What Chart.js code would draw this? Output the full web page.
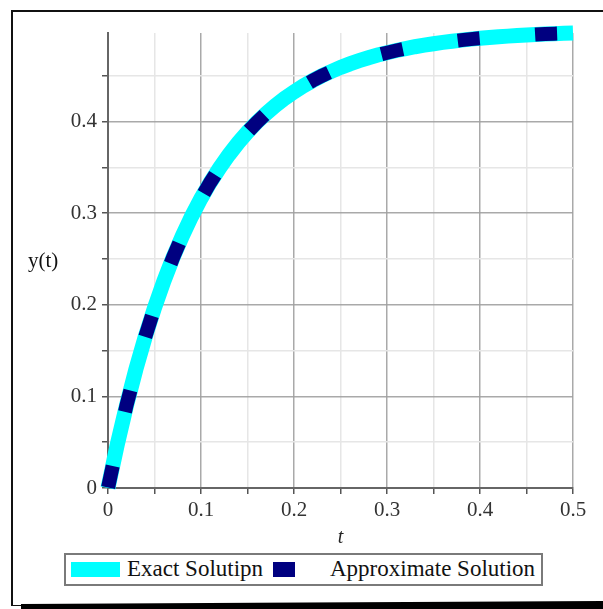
<!DOCTYPE html>
<html>
<head>
<meta charset="utf-8">
<script src="https://cdn.jsdelivr.net/npm/chart.js@4.4.1/dist/chart.umd.min.js"></script>
<style>
  html, body { margin: 0; padding: 0; background: #fff; }
  #wrap { position: relative; width: 603px; height: 609px; overflow: hidden; background: #fff; }
  #c { position: absolute; left: 0; top: 0; }
  .frame { position: absolute; left: 11px; top: 10px; width: 620px; height: 593px;
           border-left: 2px solid #111; border-top: 2px solid #111; border-bottom: 1px solid #111; }
  .shadow { position: absolute; left: 0; top: 0; width: 603px; height: 609px; background: #000;
            clip-path: polygon(21px 604px, 603px 601px, 603px 609px, 21px 609px); }
  .lbl { position: absolute; font-family: "Liberation Serif", "Times New Roman", serif; color: #111; white-space: nowrap; }
  .legend { position: absolute; left: 64px; top: 553px; width: 479px; height: 33px; box-sizing: border-box;
            border: 2px solid #7a7a7a; background: #fff; }
  .sw { position: absolute; }
</style>
</head>
<body>
<div id="wrap">
  <div class="frame"></div>
  <div class="shadow"></div>
  <canvas id="c" width="603" height="609"></canvas>
  <div class="lbl" style="left:28px; top:250px; font-size:21px; line-height:21px;">y(t)</div>
  <div class="legend"></div>
  <div class="sw" style="left:71px; top:562px; width:49px; height:15px; background:#00ffff;"></div>
  <div class="lbl" style="left:127px; top:558px; font-size:23px; line-height:22px;">Exact Solutipn</div>
  <div class="sw" style="left:273px; top:562px; width:22px; height:15px; background:#000080;"></div>
  <div class="lbl" style="left:330px; top:558px; font-size:23px; line-height:22px;">Approximate Solution</div>
</div>
<script>
// ---- data ----
const tValues = [0.00,0.01,0.02,0.03,0.04,0.05,0.06,0.07,0.08,0.09,
                 0.10,0.11,0.12,0.13,0.14,0.15,0.16,0.17,0.18,0.19,
                 0.20,0.21,0.22,0.23,0.24,0.25,0.26,0.27,0.28,0.29,
                 0.30,0.31,0.32,0.33,0.34,0.35,0.36,0.37,0.38,0.39,
                 0.40,0.41,0.42,0.43,0.44,0.45,0.46,0.47,0.48,0.49,0.50];
const exactY = [0.0000,0.0476,0.0906,0.1296,0.1648,0.1967,0.2256,0.2517,0.2753,0.2967,
                0.3161,0.3336,0.3494,0.3637,0.3767,0.3884,0.3991,0.4087,0.4174,0.4252,
                0.4323,0.4388,0.4446,0.4499,0.4546,0.4590,0.4629,0.4664,0.4696,0.4725,
                0.4751,0.4775,0.4796,0.4816,0.4833,0.4849,0.4863,0.4876,0.4888,0.4899,
                0.4908,0.4917,0.4925,0.4932,0.4939,0.4944,0.4950,0.4955,0.4959,0.4963,0.4966];
const approxY = [0.0000,0.0476,0.0906,0.1296,0.1648,0.1967,0.2256,0.2517,0.2753,0.2967,
                 0.3161,0.3336,0.3494,0.3637,0.3767,0.3884,0.3991,0.4087,0.4174,0.4252,
                 0.4323,0.4388,0.4446,0.4499,0.4546,0.4590,0.4629,0.4664,0.4696,0.4725,
                 0.4751,0.4775,0.4796,0.4816,0.4833,0.4849,0.4863,0.4876,0.4888,0.4899,
                 0.4908,0.4917,0.4925,0.4932,0.4939,0.4944,0.4950,0.4955,0.4959,0.4963,0.4966];
const xTickLabels = ["0","0.1","0.2","0.3","0.4","0.5"];
const yTickLabels = ["0","0.1","0.2","0.3","0.4"];
const seriesNames = ["Exact Solutipn","Approximate Solution"];

function isMajor(v){ return Math.abs(v*10 - Math.round(v*10)) < 1e-6; }
function labelFor(v, list){
  if (!isMajor(v)) return '';
  const i = Math.round(v*10);
  return list[i] !== undefined ? list[i] : '';
}
const tickFont = { family: '"Liberation Serif", "Times New Roman", serif', size: 21 };
const majorGrid = 'rgba(160,160,160,0.9)';
const minorGrid = '#e6e6e6';

new Chart(document.getElementById('c'), {
  type: 'line',
  data: {
    datasets: [
      { label: seriesNames[0], data: tValues.map((t,i)=>({x:t, y:exactY[i]})),
        borderColor: '#00ffff', borderWidth: 15, pointRadius: 0, borderCapStyle: 'butt',
        fill: false, tension: 0, order: 2, clip: false },
      { label: seriesNames[1], data: tValues.map((t,i)=>({x:t, y:approxY[i]})),
        borderColor: '#000080', borderWidth: 14, pointRadius: 0, borderCapStyle: 'butt',
        borderDash: [22, 55.6], borderDashOffset: -0.5, fill: false, tension: 0, order: 1, clip: false }
    ]
  },
  options: {
    responsive: false,
    animation: false,
    devicePixelRatio: 1,
    layout: { padding: { left: 48, right: 30, top: 33, bottom: 61 } },
    plugins: { legend: { display: false }, tooltip: { enabled: false }, title: { display: false } },
    scales: {
      x: {
        type: 'linear', min: 0, max: 0.5,
        afterFit: s => { s.height = 60; },
        ticks: { stepSize: 0.05, autoSkip: false, maxRotation: 0, padding: 4, color: '#333', font: tickFont,
                 callback: v => labelFor(v, xTickLabels) },
        grid: { color: c => isMajor(c.tick.value) ? majorGrid : minorGrid, lineWidth: 1.5,
                tickLength: 6, tickColor: '#555', tickWidth: 1.5 },
        border: { color: '#666', width: 2 },
        title: { display: true, text: 't', color: '#222', padding: { top: 0, bottom: 0 },
                 font: { family: '"Liberation Serif", "Times New Roman", serif', size: 20, style: 'italic', lineHeight: 1 } }
      },
      y: {
        type: 'linear', min: 0, max: 0.4966,
        afterFit: s => { s.width = 60; },
        afterBuildTicks: s => { s.ticks = s.ticks.filter(t => Math.abs(t.value*20 - Math.round(t.value*20)) < 1e-6); },
        ticks: { stepSize: 0.05, autoSkip: false, padding: 5, color: '#333', font: tickFont,
                 callback: v => labelFor(v, yTickLabels) },
        grid: { color: c => isMajor(c.tick.value) ? majorGrid : minorGrid, lineWidth: 1.5,
                tickLength: 6, tickColor: '#555', tickWidth: 1.5 },
        border: { color: '#666', width: 2 }
      }
    }
  }
});
</script>
</body>
</html>
